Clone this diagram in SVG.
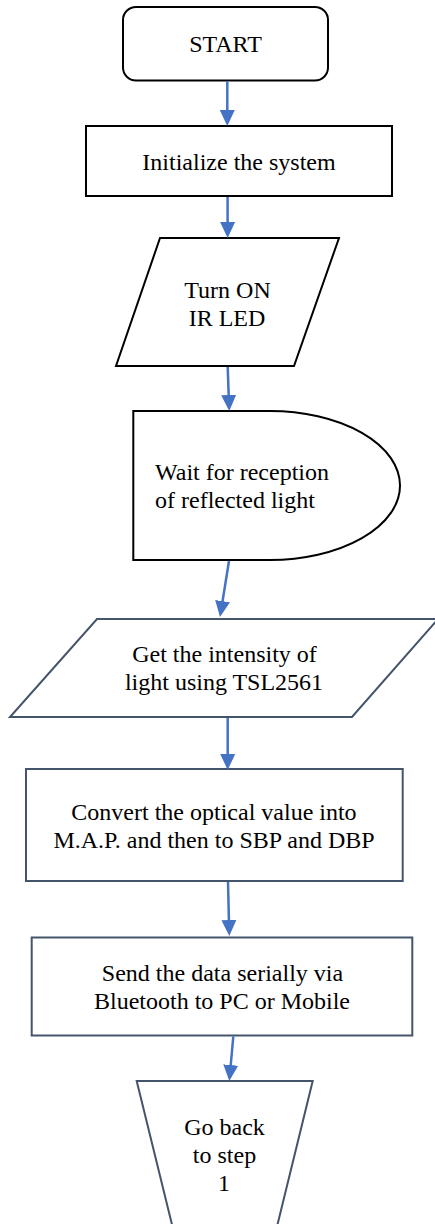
<svg xmlns="http://www.w3.org/2000/svg" width="435" height="1224" viewBox="0 0 435 1224">
  <style>
    .blk { fill: #ffffff; stroke: #000000; stroke-width: 2; }
    .sl { fill: #ffffff; stroke: #44546A; stroke-width: 2; }
    .lbl { font-family: "Liberation Serif", "Times New Roman", serif; font-size: 24px; fill: #000000; text-anchor: middle; }
    .lft { text-anchor: start; }
    .flow { fill: none; stroke: #4472C4; stroke-width: 2.5; marker-end: url(#head); }
  </style>
  <defs>
    <marker id="head" markerUnits="userSpaceOnUse" viewBox="0 0 16 15" refX="6" refY="7.5" markerWidth="16" markerHeight="15" orient="auto">
      <path d="M0,0 L16,7.5 L0,15 Z" fill="#4472C4"/>
    </marker>
  </defs>
  <rect width="435" height="1224" fill="#ffffff"/>

  <!-- terminal: start -->
  <g id="start">
    <rect class="blk" x="123" y="7" width="205" height="73.5" rx="13" ry="13"/>
    <text class="lbl" x="225.5" y="52">START</text>
  </g>

  <!-- process: initialize -->
  <g id="init">
    <rect class="blk" x="86" y="126" width="306" height="70"/>
    <text class="lbl" x="239" y="170">Initialize the system</text>
  </g>

  <!-- data: IR LED on -->
  <g id="led-on">
    <polygon class="blk" points="160,238 339,238 294,366 116,366"/>
    <text class="lbl" x="227.5" y="297.5">Turn ON</text>
    <text class="lbl" x="227" y="325.5">IR LED</text>
  </g>

  <!-- delay: wait for reflection -->
  <g id="wait">
    <path class="blk" d="M133.3,411 H270 A130,74.5 0 0 1 270,560 H133.3 Z"/>
    <text class="lbl lft" x="155" y="480">Wait for reception</text>
    <text class="lbl lft" x="155" y="507.5">of reflected light</text>
  </g>

  <!-- data: read sensor -->
  <g id="read">
    <polygon class="sl" points="97,619 438,619 352,717 10,717"/>
    <text class="lbl" x="224.5" y="661.5">Get the intensity of</text>
    <text class="lbl" x="224" y="689.5">light using TSL2561</text>
  </g>

  <!-- process: conversion -->
  <g id="convert">
    <rect class="sl" x="26" y="769" width="376.7" height="112"/>
    <text class="lbl" x="214" y="820">Convert the optical value into</text>
    <text class="lbl" x="214" y="847.7">M.A.P. and then to SBP and DBP</text>
  </g>

  <!-- process: transmit -->
  <g id="send">
    <rect class="sl" x="31.7" y="937.5" width="380.6" height="98"/>
    <text class="lbl" x="222.5" y="981">Send the data serially via</text>
    <text class="lbl" x="222" y="1009">Bluetooth to PC or Mobile</text>
  </g>

  <!-- manual operation: loop back -->
  <g id="loop">
    <polygon class="sl" points="136.7,1081 312.7,1081 272,1247 177.5,1247"/>
    <text class="lbl" x="224.5" y="1135">Go back</text>
    <text class="lbl" x="224.5" y="1163">to step</text>
    <text class="lbl" x="224" y="1191">1</text>
  </g>

  <!-- connectors -->
  <g id="connectors">
    <line class="flow" x1="227.3" y1="81" x2="227.3" y2="116"/>
    <line class="flow" x1="227.6" y1="197" x2="227.6" y2="228"/>
    <line class="flow" x1="227.7" y1="367" x2="228.9" y2="401"/>
    <line class="flow" x1="229" y1="561" x2="221.6" y2="607.1"/>
    <line class="flow" x1="227.7" y1="718" x2="227.7" y2="760"/>
    <line class="flow" x1="228" y1="882" x2="229.06" y2="926"/>
    <line class="flow" x1="233.3" y1="1036.5" x2="230.2" y2="1071"/>
  </g>
</svg>
